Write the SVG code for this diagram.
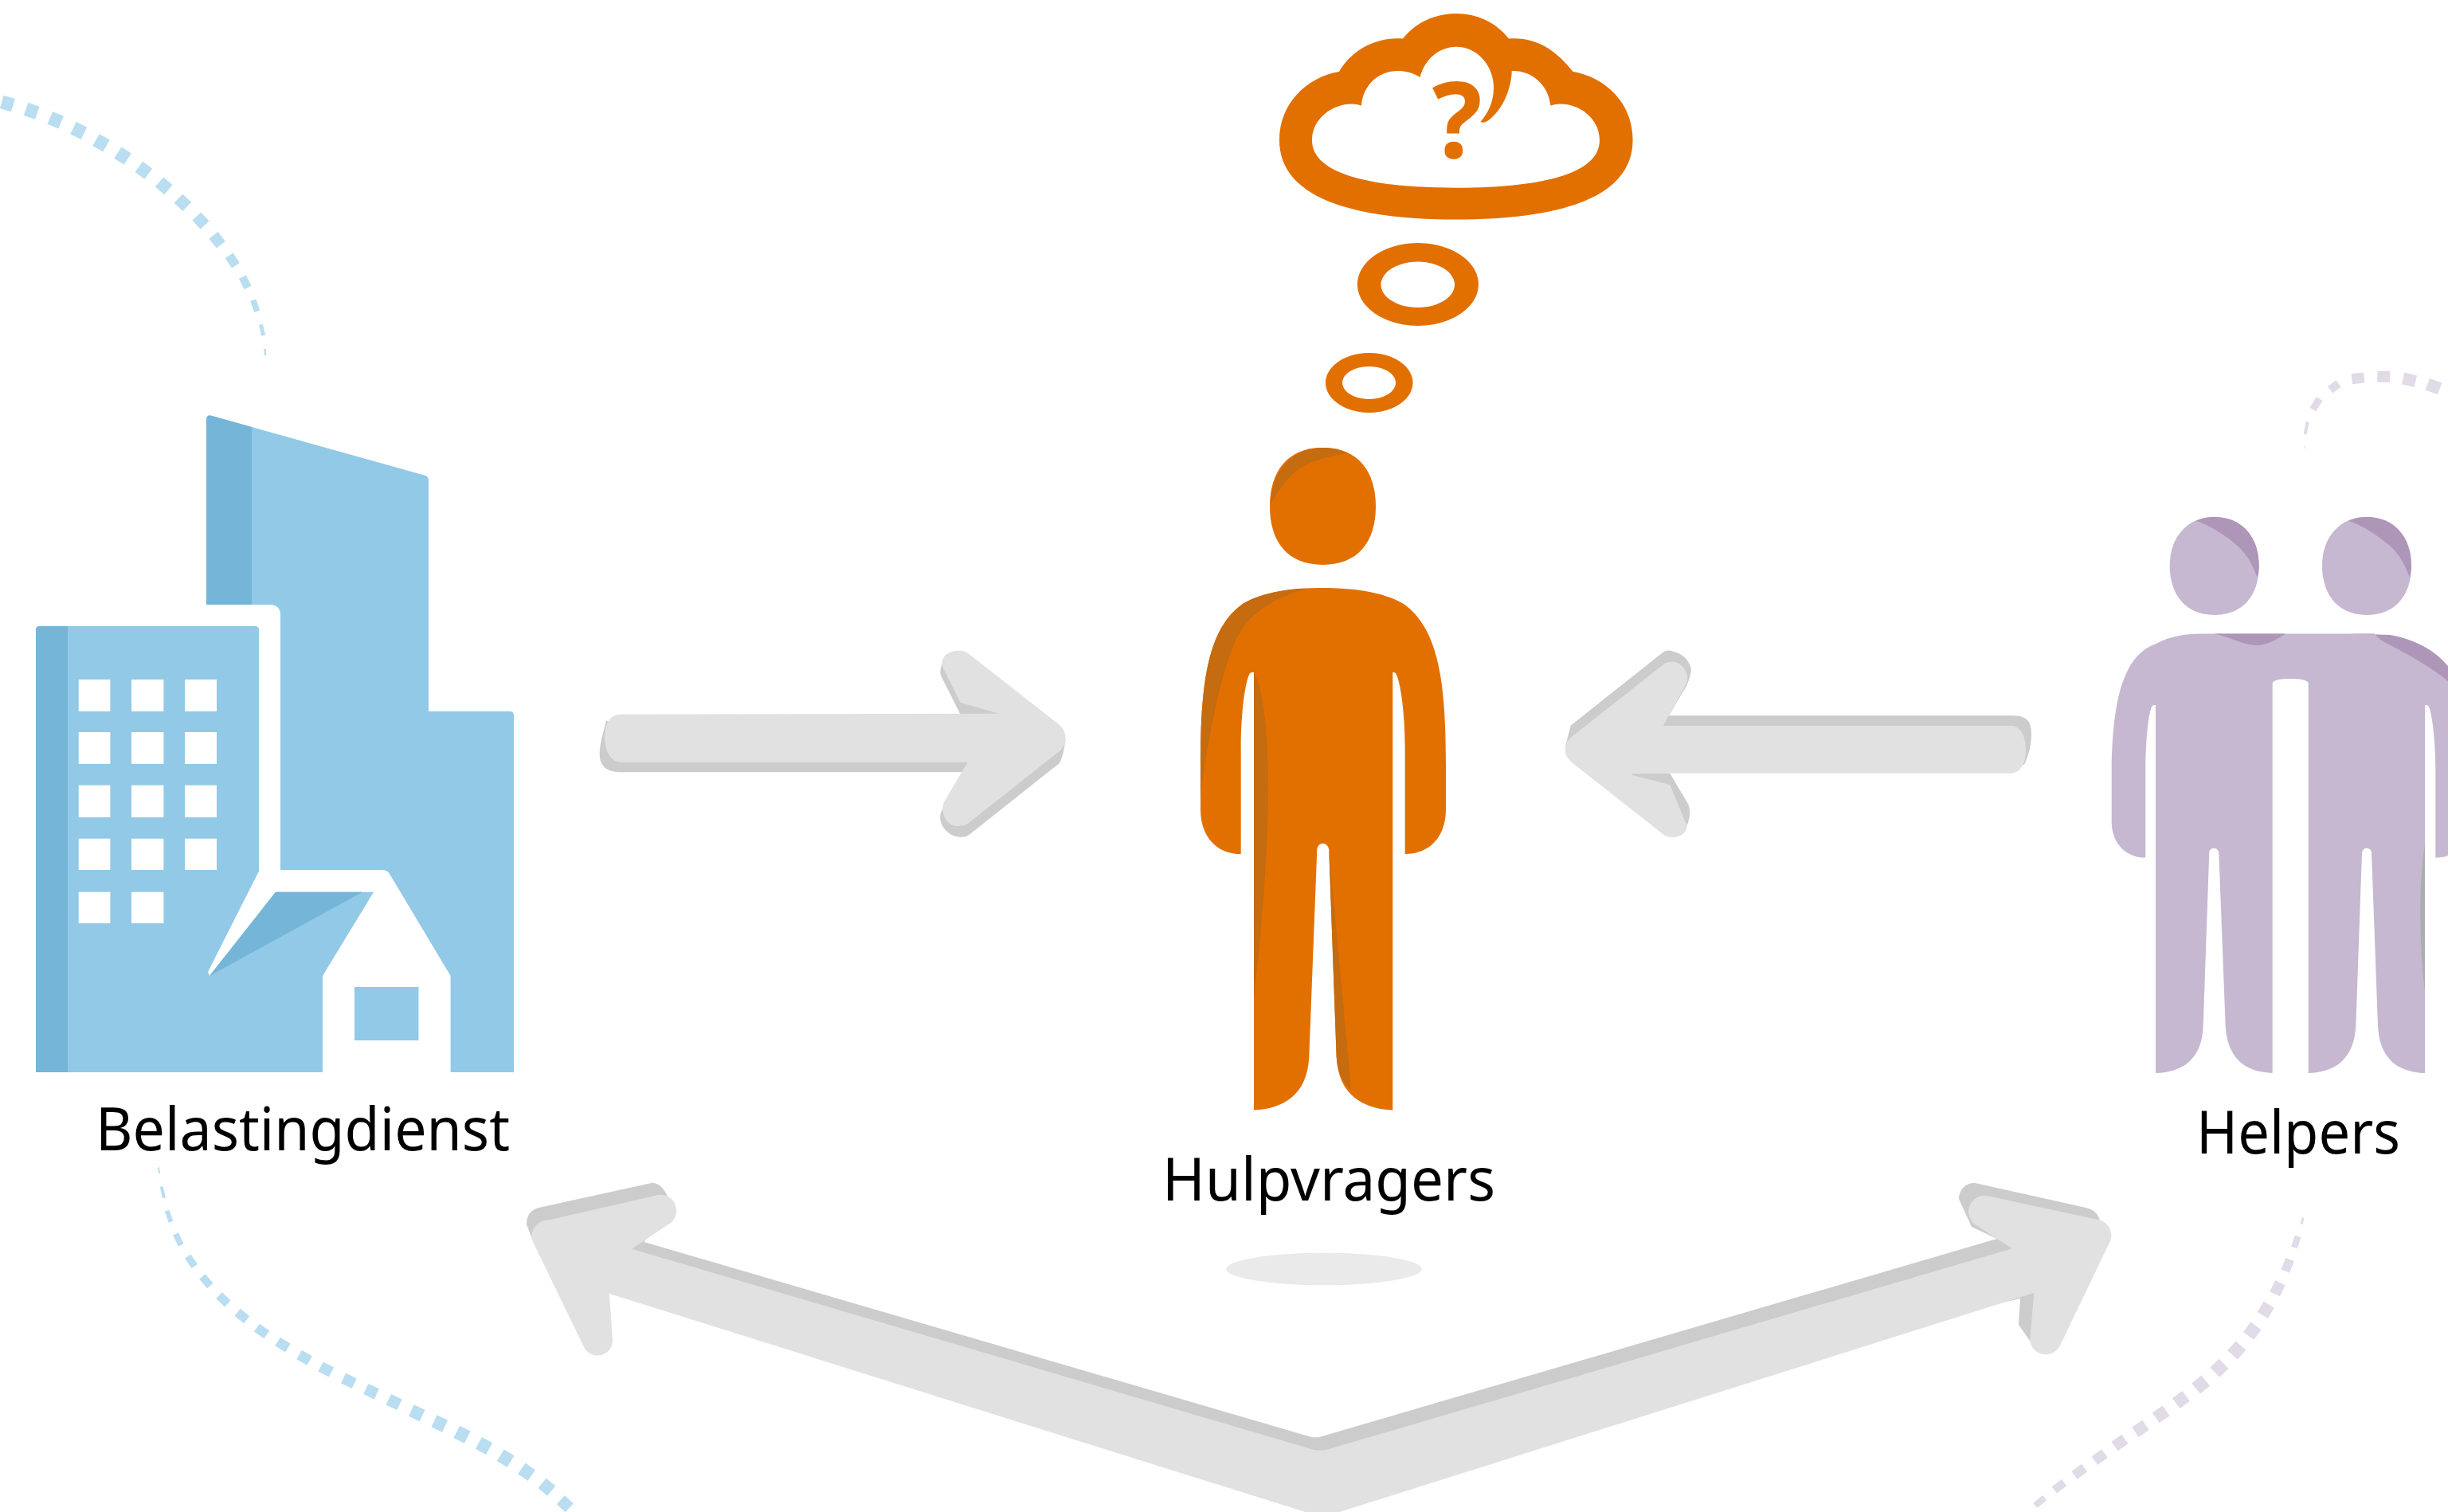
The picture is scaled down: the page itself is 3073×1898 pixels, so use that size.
<svg xmlns="http://www.w3.org/2000/svg" width="3073" height="1898" viewBox="0 0 3073 1898">
<style>
.bg{fill:#fff}
.blue{fill:#91C9E6}.blued{fill:#75B5D8}.win{fill:#fff}
.or{fill:#E27000}.ord{fill:#C56B10}
.li{fill:#C6B8D0}.lid{fill:#AD96B8}.gr{fill:#AAAEB0}
.as{fill:#CCCCCC}.af{fill:#E1E1E1}.sh{fill:#EAEAEA}
.lbl{font-family:"Noto Sans","Open Sans","Liberation Sans",sans-serif;font-size:75px;fill:#000}
.q{font-family:"Noto Sans","Open Sans","Liberation Sans",sans-serif;font-size:132px;font-weight:700;fill:#E27000;text-anchor:middle}
.db line{stroke:#B9DDF1;fill:none}
.dl line{stroke:#E1DAE7;fill:none}
</style>
<rect class="bg" width="3073" height="1898"/>
<g id="decoration">
<g class="db">
<line x1="2.2" y1="127.8" x2="16.4" y2="132.2" stroke-width="17"/>
<line x1="32.6" y1="136.9" x2="46.8" y2="141.7" stroke-width="17"/>
<line x1="62.8" y1="147.8" x2="76.6" y2="153.6" stroke-width="17"/>
<line x1="92" y1="160.7" x2="105.4" y2="167.3" stroke-width="17"/>
<line x1="120.5" y1="175.6" x2="133.5" y2="183" stroke-width="17"/>
<line x1="147.8" y1="191.7" x2="160.2" y2="199.7" stroke-width="17"/>
<line x1="174.3" y1="209.3" x2="186.3" y2="218.1" stroke-width="16.5"/>
<line x1="200" y1="228.5" x2="211.4" y2="238.1" stroke-width="16"/>
<line x1="223.9" y1="249.2" x2="234.7" y2="259.4" stroke-width="15.5"/>
<line x1="246.9" y1="271.5" x2="257.1" y2="282.5" stroke-width="15"/>
<line x1="268.1" y1="295.4" x2="277.3" y2="307.2" stroke-width="14"/>
<line x1="287.6" y1="320.8" x2="295.8" y2="333.2" stroke-width="12"/>
<line x1="304.4" y1="347.7" x2="311" y2="360.9" stroke-width="10"/>
<line x1="317.8" y1="376.7" x2="322.8" y2="390.7" stroke-width="7.5"/>
<line x1="327.5" y1="407.3" x2="330.5" y2="421.3" stroke-width="5"/>
<line x1="332.6" y1="438" x2="333" y2="446" stroke-width="2.5"/>
</g>
<g class="db">
<line x1="199" y1="1465.3" x2="200.2" y2="1473.3" stroke-width="2"/>
<line x1="202.7" y1="1489.5" x2="205.9" y2="1503.9" stroke-width="4"/>
<line x1="209.7" y1="1519.6" x2="214.5" y2="1533.8" stroke-width="6"/>
<line x1="220.5" y1="1549" x2="227.3" y2="1563" stroke-width="7.5"/>
<line x1="235.8" y1="1577" x2="244.2" y2="1589.6" stroke-width="9"/>
<line x1="254" y1="1602.5" x2="263.8" y2="1614.1" stroke-width="10"/>
<line x1="275" y1="1626.1" x2="285.8" y2="1636.5" stroke-width="11"/>
<line x1="298.1" y1="1647.2" x2="309.7" y2="1656.8" stroke-width="11.5"/>
<line x1="322.4" y1="1666.6" x2="334.8" y2="1675.4" stroke-width="12"/>
<line x1="348.6" y1="1684" x2="361.4" y2="1692" stroke-width="12.5"/>
<line x1="375.6" y1="1700.6" x2="388.6" y2="1708" stroke-width="13"/>
<line x1="402.6" y1="1715.5" x2="416" y2="1722.5" stroke-width="13.5"/>
<line x1="431.1" y1="1730" x2="444.7" y2="1736.6" stroke-width="14"/>
<line x1="459.3" y1="1743.5" x2="472.9" y2="1749.9" stroke-width="14.5"/>
<line x1="487.7" y1="1756.8" x2="501.5" y2="1763.2" stroke-width="15"/>
<line x1="516.3" y1="1770.5" x2="530.1" y2="1776.9" stroke-width="16"/>
<line x1="545" y1="1783.8" x2="558.6" y2="1790.2" stroke-width="16.5"/>
<line x1="573.3" y1="1797.3" x2="586.7" y2="1804.1" stroke-width="17"/>
<line x1="600.9" y1="1811.4" x2="614.1" y2="1818.6" stroke-width="17"/>
<line x1="628.2" y1="1826.8" x2="641" y2="1834.6" stroke-width="17"/>
<line x1="654.9" y1="1843.4" x2="667.3" y2="1852" stroke-width="16.5"/>
<line x1="680.6" y1="1861.9" x2="692.2" y2="1871.5" stroke-width="16"/>
<line x1="703.8" y1="1882.7" x2="714.8" y2="1892.7" stroke-width="15"/>
</g>
<g class="dl">
<line x1="2893" y1="560" x2="2893.3" y2="563" stroke-width="1"/>
<line x1="2896.7" y1="529.3" x2="2893.7" y2="545" stroke-width="4"/>
<line x1="2911.7" y1="500.7" x2="2903.3" y2="514" stroke-width="9"/>
<line x1="2935.7" y1="481.7" x2="2925" y2="489.3" stroke-width="10.5"/>
<line x1="2952.3" y1="475.7" x2="2967.7" y2="474" stroke-width="13"/>
<line x1="2984.3" y1="472.7" x2="3000" y2="473" stroke-width="14"/>
<line x1="3016.7" y1="475" x2="3032.3" y2="478.7" stroke-width="15"/>
<line x1="3047.4" y1="482.2" x2="3062.7" y2="487.9" stroke-width="15.5"/>
</g>
<g class="dl">
<line x1="2891" y1="1528.7" x2="2889" y2="1536.7" stroke-width="3"/>
<line x1="2884.6" y1="1552" x2="2880" y2="1566" stroke-width="8"/>
<line x1="2874.6" y1="1581" x2="2868.8" y2="1595.6" stroke-width="11.5"/>
<line x1="2862.4" y1="1610.3" x2="2855.6" y2="1624.3" stroke-width="14"/>
<line x1="2848.3" y1="1637.6" x2="2840.3" y2="1651" stroke-width="15.5"/>
<line x1="2831.9" y1="1664.4" x2="2822.7" y2="1677" stroke-width="16.5"/>
<line x1="2812.9" y1="1689.2" x2="2802.5" y2="1700.8" stroke-width="17"/>
<line x1="2791.6" y1="1711.9" x2="2780.4" y2="1722.7" stroke-width="17"/>
<line x1="2768.7" y1="1733" x2="2756.7" y2="1743" stroke-width="17"/>
<line x1="2744.2" y1="1752.3" x2="2731.8" y2="1761.7" stroke-width="16"/>
<line x1="2719.1" y1="1770.8" x2="2706.3" y2="1779.8" stroke-width="15.5"/>
<line x1="2693.5" y1="1788.8" x2="2680.5" y2="1797.8" stroke-width="15"/>
<line x1="2667.4" y1="1806.5" x2="2654.6" y2="1815.5" stroke-width="14"/>
<line x1="2642" y1="1824.5" x2="2629.4" y2="1833.5" stroke-width="13"/>
<line x1="2616.6" y1="1842.7" x2="2604" y2="1851.9" stroke-width="12"/>
<line x1="2591.2" y1="1861" x2="2578.8" y2="1870.4" stroke-width="10.5"/>
<line x1="2566.7" y1="1880.2" x2="2554.7" y2="1889.8" stroke-width="8"/>
</g>
</g>
<g id="connectors">
<g id="arrow-belastingdienst-hulpvragers">
<path class="as" d="M1184.5 830C1180 838 1180 843 1181 848L1205.7 897 1254 896ZM779 969.3L1207.8 969.3 1181 1020C1177 1035 1190 1050.7 1205.7 1050.7 1210 1051 1214 1050 1218 1046.7L1330 958C1334 950 1336 940 1337.6 928L1200 930 761 905C757 920 752.7 935 752.7 946.7 752.7 960 760 969.3 779 969.3Z"/>
<path class="af" d="M779 896.7L1253.9 895.7 1205.7 882 1184.5 840C1178 825 1190 816.7 1203.7 816.7 1208 816.7 1212 817.5 1216 820.7L1330 910C1335 915 1337.6 920 1337.6 926.7 1337.6 933 1335 938 1330 943L1216 1033C1212 1036 1207 1037 1201.6 1037 1188 1037 1180 1020 1185 1006.7L1214.7 956.7 779 956.7C765 956.7 759 940 759 925 759 910 765 896.7 779 896.7Z"/>
</g>
<g id="arrow-helpers-hulpvragers">
<path class="as" d="M2525.7 898.3L2095 898.3 2117.6 860C2122 850 2124 840 2122.4 838 2120 828 2112 820 2097 816.7 2094 816 2090 817 2087 819.3L1971.8 910.7 1965 936.7 2000 960 2050 970.7 2096.3 970.7 2119.6 1010C2122 1018 2122 1025 2117.6 1036.7L2100 1000 2000 950 2400 950 2541 960C2546 950 2550 935 2550 923 2550 905 2545 898.3 2525.7 898.3Z"/>
<path class="af" d="M2523.7 911L2087.8 911 2117 858C2122 846 2112 830.7 2099 830.7 2094 830.7 2090 832 2087 835L1972.7 925C1967 930 1964.5 935 1964.5 939.3 1964.5 947 1967 952 1972.7 956.7L2087 1046.7C2090 1049.5 2094 1051 2099 1051 2110 1051 2118 1045 2117.6 1036.7L2096.3 985 2048 972.7 2050 970.7 2523.7 970.7C2537 970.7 2543 958 2543 941 2543 925 2537 911 2523.7 911Z"/>
</g>
<g id="arrow-belastingdienst-helpers">
<path class="as" d="M818.9 1484.7L676.5 1516C665 1519 661 1527 661 1537L666.7 1552 760 1600 1660 1830 2536 1630 2534 1663 2548 1683 2600 1600 2636 1531.7C2633 1523 2628 1518 2618.4 1516L2479.3 1485C2468 1484 2459 1494 2459 1505L2475 1540 2506.8 1555 1663 1802C1655 1805 1649 1805 1643 1803L808.4 1559 840 1515C841 1500 830 1485 818.9 1484.7Z"/>
<path class="af" d="M793 1567.7L1646 1819C1652 1821 1660 1821 1668 1819L2526 1567.3 2481 1538A20 20 0 0 1 2494 1501L2636 1531.5A20 20 0 0 1 2648 1560L2586 1689A20 20 0 0 1 2548.2 1683L2553.3 1623 1675 1900C1665 1905 1655 1905 1645 1900L764.9 1624 769 1683A19 19 0 0 1 733 1691L668 1556.7A20 20 0 0 1 687.7 1531.7L822 1501A20 20 0 0 1 842 1535Z"/>
</g>
</g>
<g id="node-belastingdienst">
<path class="blue" d="M264 521.5L534 597Q538 598 538 603L538 893 640 893Q645 893 645 898L645 1346 565.6 1346 565.6 1225 489 1097Q486 1092 480 1092L352 1092 352 772Q352 759 338 759L259 759 259 527Q259 521 264 521.5Z"/>
<path class="blued" d="M264 521.5L316 536 316 759 259 759 259 527Q259 521 264 521.5Z"/>
<path class="blue" d="M50 786L320 786Q325 786 325 791L325 1093.5 261 1220 263 1225 346 1119.7 469 1119.7 405 1225 405 1346 45 1346 45 791Q45 786 50 786Z"/>
<path class="blued" d="M50 786L85 786 85 1346 45 1346 45 791Q45 786 50 786ZM263 1225L346 1119.7 455 1119.7Z"/>
<g class="win">
<rect x="98.7" y="853" width="39.7" height="40"/><rect x="165" y="853" width="40.4" height="40"/><rect x="232" y="853" width="40" height="40"/>
<rect x="98.7" y="919" width="39.7" height="40"/><rect x="165" y="919" width="40.4" height="40"/><rect x="232" y="919" width="40" height="40"/>
<rect x="98.7" y="985.7" width="39.7" height="40.3"/><rect x="165" y="985.7" width="40.4" height="40.3"/><rect x="232" y="985.7" width="40" height="40.3"/>
<rect x="98.7" y="1052.7" width="39.7" height="39.3"/><rect x="165" y="1052.7" width="40.4" height="39.3"/><rect x="232" y="1052.7" width="40" height="39.3"/>
<rect x="98.7" y="1119.7" width="39.7" height="39.3"/><rect x="165" y="1119.7" width="40.4" height="39.3"/>
</g>
<rect class="blue" x="445" y="1239" width="80.4" height="67"/>
<text class="lbl" x="120" y="1444" textLength="520" lengthAdjust="spacingAndGlyphs">Belastingdienst</text>
</g>
<g id="node-hulpvragers">
<path class="or" fill-rule="evenodd" d="M1681 90C1695 65 1725 46 1761 48.5 1777 28 1802 17 1828 17 1854 17 1878 28 1894 48.5 1930 46 1955 65 1974.6 90 2016 97 2049.6 130 2049.6 176 2049.6 245 1966 275.5 1828 275.5 1690 275.5 1606 245 1606 176 1606 130 1640 97 1681 90ZM1709 132.6C1711 107 1730 89 1755 89 1765 89 1775 92 1782.6 97 1788 75 1806 58.7 1828 58.7 1854 58.7 1875 82 1875 110 1875 128 1868 142 1858.5 153 1862 155 1867 153 1872 148 1887 135 1897 112 1897.8 89 1923 88 1944 107 1946.4 132.6 1970 124 2008 142 2008 176 2008 215 1946 235.7 1828 235.7 1710 235.7 1647 215 1647 176 1647 142 1686 124 1709 132.6Z"/>
<text class="q" x="1829" y="198">?</text>
<path class="or" fill-rule="evenodd" d="M1780 305A76 52 0 1 1 1779.9 305ZM1779.7 328.6A46.3 28.7 0 1 0 1779.8 328.6Z"/>
<path class="or" fill-rule="evenodd" d="M1718.8 443A54.8 37.5 0 1 1 1718.7 443ZM1718.5 460A33.5 20.5 0 1 0 1718.6 460Z"/>
<path class="or" d="M1660.5 562C1705 562 1727 592 1727 635.6 1727 680 1705 709 1660.5 709 1616 709 1594 680 1594 635.6 1594 592 1616 562 1660.5 562Z"/>
<path class="ord" d="M1595 633C1596 592 1622 562 1660.5 562 1672 562 1682 564 1691 569 1665 573 1645 580 1633 587 1618 597 1604 616 1595 633Z"/>
<path class="or" d="M1574 844L1574 1393.5C1610 1392 1641 1375 1643.3 1327L1653.3 1067C1654 1056 1667 1056 1668.3 1067L1677.7 1327C1680 1375 1712 1392 1748.3 1393.5L1748.3 844C1750 844 1751 844 1752 845 1758 855 1763.7 895 1763.7 939L1763.7 1072C1795 1072 1815 1050 1815 1016L1815 960C1815 860 1807 790 1762 758 1735 742 1695 738 1660 738 1625 738 1587 742 1560 758 1515 790 1507 860 1507 960L1507 1016C1507 1050 1527 1072 1557.7 1072L1557.7 939C1557.7 895 1563 855 1569 845 1570 844 1572 844 1574 844Z"/>
<path class="ord" d="M1507 1000C1515 930 1535 830 1556 795 1575 762 1610 748 1640 738.5 1625 739 1587 742 1560 758 1515 790 1507 860 1507 960ZM1574 844C1588 870 1592 930 1592 985 1592 1070 1583 1180 1574 1251ZM1668.3 1067L1696 1368C1685 1358 1679 1345 1677.7 1327Z"/>
<text class="lbl" x="1459" y="1507" textLength="418" lengthAdjust="spacingAndGlyphs">Hulpvragers</text>
<ellipse class="sh" cx="1662" cy="1593" rx="122.7" ry="20.3"/>
</g>
<g id="node-helpers">
<path class="li" d="M2779.7 649C2815 649 2835.7 675 2835.7 710 2835.7 748 2815 772 2779.7 772 2745 772 2723.7 748 2723.7 710 2723.7 675 2745 649 2779.7 649Z"/>
<path class="lid" d="M2756.7 653.7C2765 650 2772 649 2779.7 649 2815 649 2835.7 675 2835.7 710 2835.7 715 2835 720 2833.3 724.6 2828 708 2818 692 2805 682 2790 670 2775 660 2756.7 653.7Z"/>
<path class="li" transform="translate(191.3 0)" d="M2779.7 649C2815 649 2835.7 675 2835.7 710 2835.7 748 2815 772 2779.7 772 2745 772 2723.7 748 2723.7 710 2723.7 675 2745 649 2779.7 649Z"/>
<path class="lid" transform="translate(191.3 0)" d="M2756.7 653.7C2765 650 2772 649 2779.7 649 2815 649 2835.7 675 2835.7 710 2835.7 715 2835 720 2833.3 724.6 2828 708 2818 692 2805 682 2790 670 2775 660 2756.7 653.7Z"/>
<path class="li" d="M2706 885L2706 1347C2740 1346 2764 1330 2765.7 1288L2773.3 1070C2774 1063 2784 1063 2785.3 1070L2793.7 1288C2796 1330 2820 1346 2852.7 1347L2852.7 857C2855 853 2865 852 2875 852 2885 852 2895 853 2897.7 857L2897.7 1347C2931 1346 2955 1330 2957.3 1288L2965 1070C2966 1063 2976 1063 2977 1070L2985 1288C2987 1330 3011 1346 3044 1347L3044 885C3045 885 3047 885 3048.3 886 3053 893 3057.3 930 3057.3 967L3057.3 1076.6C3063 1076.6 3069 1076 3073 1074L3073 837C3060 820 3045 810 3020 803 3000 797 2975 795.5 2950 795.5L2766 795.5C2745 795.5 2725 798 2706.7 808 2668 822 2652 870 2650.7 967L2650.7 1030.7C2650.7 1060 2670 1076.6 2693.3 1076.6L2693.3 967C2693.3 930 2697 893 2701.7 886 2703 885 2704.5 885 2706 885Z"/>
<path class="lid" d="M2780 795.5L2869 795.5C2860 802 2845 810 2833.3 810 2815 810 2800 800 2780 795.5ZM2981 795.5L2950 795.5 3000 797C3020 800 3050 810 3073 836L3073 855C3055 840 3025 822 2993 806 2988 803 2984 800 2981 795.5Z"/>
<path class="gr" d="M3044 1059C3040 1085 3038.3 1115 3038.3 1140 3038.3 1180 3040 1215 3044 1245Z"/>
<text class="lbl" x="2757" y="1448" textLength="256" lengthAdjust="spacingAndGlyphs">Helpers</text>
</g>
</svg>
